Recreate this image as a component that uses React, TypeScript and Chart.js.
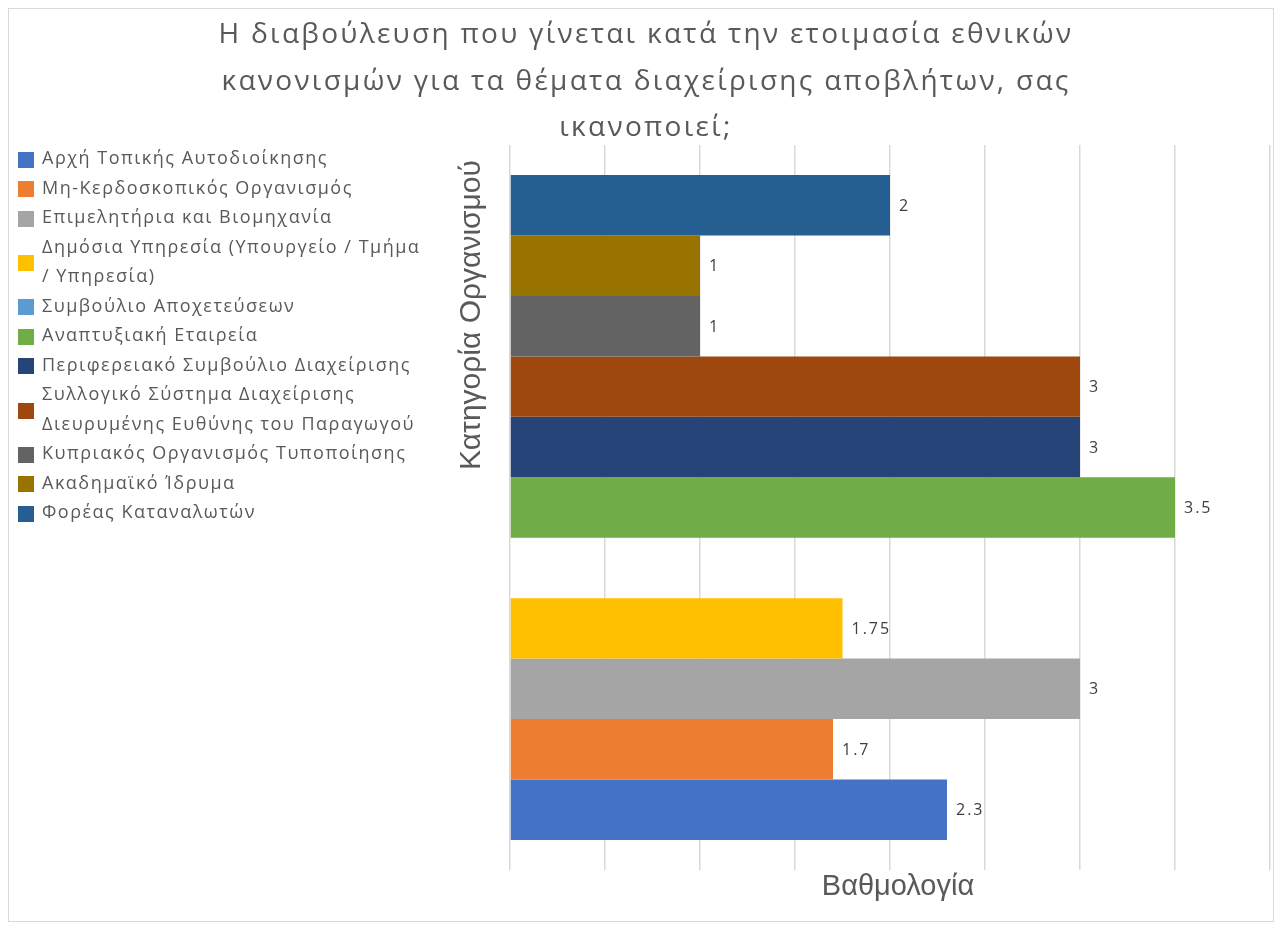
import React, { useEffect, useRef } from "react";
import { Chart, registerables } from "chart.js";

Chart.register(...registerables);

const titleLines = [
  "Η διαβούλευση που γίνεται κατά την ετοιμασία εθνικών",
  "κανονισμών για τα θέματα διαχείρισης αποβλήτων, σας",
  "ικανοποιεί;",
];

const categories = [""];

const seriesNames = [
  "Αρχή Τοπικής Αυτοδιοίκησης",
  "Μη-Κερδοσκοπικός Οργανισμός",
  "Επιμελητήρια και Βιομηχανία",
  "Δημόσια Υπηρεσία (Υπουργείο / Τμήμα / Υπηρεσία)",
  "Συμβούλιο Αποχετεύσεων",
  "Αναπτυξιακή Εταιρεία",
  "Περιφερειακό Συμβούλιο Διαχείρισης",
  "Συλλογικό Σύστημα Διαχείρισης Διευρυμένης Ευθύνης του Παραγωγού",
  "Κυπριακός Οργανισμός Τυποποίησης",
  "Ακαδημαϊκό Ίδρυμα",
  "Φορέας Καταναλωτών",
];

const seriesValues: (number | null)[] = [2.3, 1.7, 3, 1.75, null, 3.5, 3, 3, 1, 1, 2];

const seriesColors = [
  "#4472C4",
  "#ED7D31",
  "#A5A5A5",
  "#FFC000",
  "#5B9BD5",
  "#70AD47",
  "#264478",
  "#9E480E",
  "#636363",
  "#997300",
  "#255E91",
];

const xMin = 0;
const xMax = 4;
const xStep = 0.5;

const xAxisTitle = "Βαθμολογία";
const yAxisTitle = "Κατηγορία Οργανισμού";

const TEXT_GRAY = "#595959";

const overlayPlugin = {
  id: "overlayText",
  afterDatasetsDraw(chart: any) {
    const ctx = chart.ctx as CanvasRenderingContext2D;
    const area = chart.chartArea;
    ctx.save();
    // data labels
    ctx.fillStyle = "#404040";
    ctx.font = '16px "Open Sans", sans-serif';
    (ctx as any).letterSpacing = "2px";
    ctx.textAlign = "left";
    ctx.textBaseline = "middle";
    chart.data.datasets.forEach((ds: any, i: number) => {
      const meta = chart.getDatasetMeta(i);
      meta.data.forEach((el: any, j: number) => {
        const v = ds.data[j];
        if (v === null || v === undefined) return;
        ctx.fillText(String(v), el.x + 9, el.y + 1);
      });
    });
    (ctx as any).letterSpacing = "0px";
    // x axis title
    ctx.fillStyle = TEXT_GRAY;
    ctx.font = '29px "Liberation Sans", Arial, sans-serif';
    ctx.textAlign = "center";
    ctx.textBaseline = "middle";
    ctx.fillText(xAxisTitle, (area.left + area.right) / 2 + 8, area.bottom + 17);
    // y axis title
    ctx.font = '30px "Liberation Sans", Arial, sans-serif';
    ctx.translate(area.left - 38, area.top + 170);
    ctx.rotate(-Math.PI / 2);
    ctx.fillText(yAxisTitle, 0, 0);
    ctx.restore();
  },
};

export default function App() {
  const canvasRef = useRef<HTMLCanvasElement | null>(null);

  useEffect(() => {
    if (!canvasRef.current) return;
    const order = seriesNames.map((_, i) => i).reverse();
    const chart = new Chart(canvasRef.current, {
      type: "bar",
      data: {
        labels: categories,
        datasets: order.map((i) => ({
          label: seriesNames[i],
          data: [seriesValues[i]],
          backgroundColor: seriesColors[i],
          borderWidth: 0,
        })),
      },
      options: {
        indexAxis: "y",
        animation: false,
        responsive: false,
        devicePixelRatio: 1,
        layout: { padding: { left: 501, right: 3, top: 136, bottom: 51 } },
        datasets: {
          bar: { categoryPercentage: 0.917, barPercentage: 1 },
        },
        plugins: {
          legend: { display: false },
          title: { display: false },
          tooltip: { enabled: false },
        },
        scales: {
          x: {
            min: xMin,
            max: xMax,
            ticks: { display: false, stepSize: xStep },
            grid: { color: "#d9d9d9", lineWidth: 1.5, drawTicks: false },
            border: { display: false },
          },
          y: {
            display: false,
          },
        },
      },
      plugins: [overlayPlugin],
    });
    return () => chart.destroy();
  }, []);

  return (
    <div
      style={{
        position: "relative",
        width: 1266,
        height: 914,
        border: "1px solid #d9d9d9",
        boxSizing: "border-box",
        background: "#fff",
        overflow: "hidden",
      }}
    >
      <canvas
        ref={canvasRef}
        width={1264}
        height={912}
        style={{ position: "absolute", left: 0, top: 0, width: 1264, height: 912 }}
      />
      <div
        style={{
          position: "absolute",
          left: 0,
          top: 0,
          width: 1264,
          textAlign: "center",
          fontFamily: '"Open Sans", sans-serif',
          fontSize: 28,
          letterSpacing: "2.3px",
          lineHeight: "46.5px",
          color: TEXT_GRAY,
          paddingLeft: 10,
          boxSizing: "border-box",
        }}
      >
        {titleLines.map((t, i) => (
          <div key={i}>{t}</div>
        ))}
      </div>
      <div
        style={{
          position: "absolute",
          left: 9,
          top: 134,
          width: 430,
          fontFamily: '"Open Sans", sans-serif',
          fontSize: 18,
          letterSpacing: "1.5px",
          lineHeight: "29.5px",
          color: TEXT_GRAY,
        }}
      >
        {seriesNames.map((name, i) => (
          <div key={i} style={{ display: "flex", alignItems: "center" }}>
            <span
              style={{
                flex: "0 0 auto",
                width: 16,
                height: 16,
                background: seriesColors[i],
                marginRight: 8,
                marginTop: 4,
              }}
            />
            <span style={{ width: 386 }}>{name}</span>
          </div>
        ))}
      </div>
    </div>
  );
}
